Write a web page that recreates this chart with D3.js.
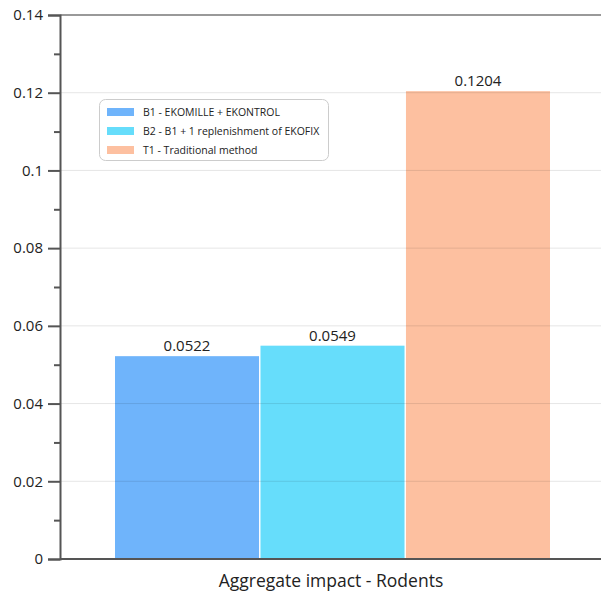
<!DOCTYPE html>
<html><head><meta charset="utf-8">
<script src="https://cdn.jsdelivr.net/npm/d3@7"></script>
<style>body{margin:0;background:#fff}svg{display:block}text{font-family:"Open Sans","Noto Sans",sans-serif}</style>
</head><body><svg id="c" width="601" height="591"></svg>
<script>
const series = ["B1 - EKOMILLE + EKONTROL","B2 - B1 + 1 replenishment of EKOFIX","T1 - Traditional method"];
const values = [0.0522, 0.0549, 0.1204];
const labels = ["0.0522","0.0549","0.1204"];
const colors = ["#6fb4fb","#66ddfb","#fdc0a0"];
const yTicks = [0,0.02,0.04,0.06,0.08,0.1,0.12,0.14];
const yTickLabels = ["0","0.02","0.04","0.06","0.08","0.1","0.12","0.14"];
const minorTicks = [0.01,0.03,0.05,0.07,0.09,0.11,0.13];
const category = "Aggregate impact - Rodents";

const svg = d3.select("#c");
const L=60, R=601, T=15, B=559;
const y = d3.scaleLinear().domain([0,0.14]).range([B,T]);
const x = d3.scaleBand().domain(series).range([115,550]).paddingInner(0.01).paddingOuter(0);

// bars
svg.selectAll("rect.bar").data(series).enter().append("rect")
 .attr("x",d=>x(d)).attr("width",x.bandwidth())
 .attr("y",(d,i)=>y(values[i])).attr("height",(d,i)=>B-y(values[i]))
 .attr("fill",(d,i)=>colors[i]);

// gridlines
svg.selectAll("line.grid").data(yTicks.slice(1,-1)).enter().append("line")
 .attr("x1",L).attr("x2",R).attr("y1",d=>y(d)).attr("y2",d=>y(d))
 .attr("stroke","rgba(0,0,0,0.1)").attr("stroke-width",1);
// top line
svg.append("line").attr("x1",L).attr("x2",R).attr("y1",y(0.14)).attr("y2",y(0.14))
 .attr("stroke","#999").attr("stroke-width",2);

// y axis
const ax = svg.append("g").attr("transform",`translate(${L},0)`)
 .call(d3.axisLeft(y).tickValues(yTicks).tickFormat((d,i)=>yTickLabels[i]).tickSize(12).tickPadding(5));
ax.select(".domain").attr("stroke","#555").attr("stroke-width",2);
ax.selectAll(".tick line").attr("stroke","#555").attr("stroke-width",2);
ax.selectAll(".tick text").attr("font-size",15).attr("fill","#222").attr("font-family","'Open Sans',sans-serif");
svg.append("g").attr("transform",`translate(${L},0)`)
 .call(d3.axisLeft(y).tickValues(minorTicks).tickSize(6).tickFormat(""))
 .call(g=>{g.select(".domain").remove();g.selectAll(".tick line").attr("stroke","#555").attr("stroke-width",2);});

// baseline
svg.append("line").attr("x1",L).attr("x2",R).attr("y1",B).attr("y2",B).attr("stroke","#555").attr("stroke-width",2);

// value labels
svg.selectAll("text.val").data(series).enter().append("text")
 .attr("x",d=>x(d)+x.bandwidth()/2).attr("y",(d,i)=>y(values[i])-5)
 .attr("text-anchor","middle").attr("font-size",15).attr("fill","#222")
 .text((d,i)=>labels[i]);

// category label
svg.append("text").attr("x",331).attr("y",587).attr("text-anchor","middle")
 .attr("font-size",17.5).attr("fill","#222").text(category);

// legend
const lg = svg.append("g");
lg.append("rect").attr("x",99.5).attr("y",99.5).attr("width",229).attr("height",61).attr("rx",6)
 .attr("fill","#fff").attr("stroke","#ccc");
series.forEach((s,i)=>{
  lg.append("rect").attr("x",107).attr("y",108+i*19).attr("width",27).attr("height",8).attr("fill",colors[i]);
  lg.append("text").attr("x",143).attr("y",116+i*19).attr("font-size",10.5).attr("fill","#222").text(s);
});
</script></body></html>
